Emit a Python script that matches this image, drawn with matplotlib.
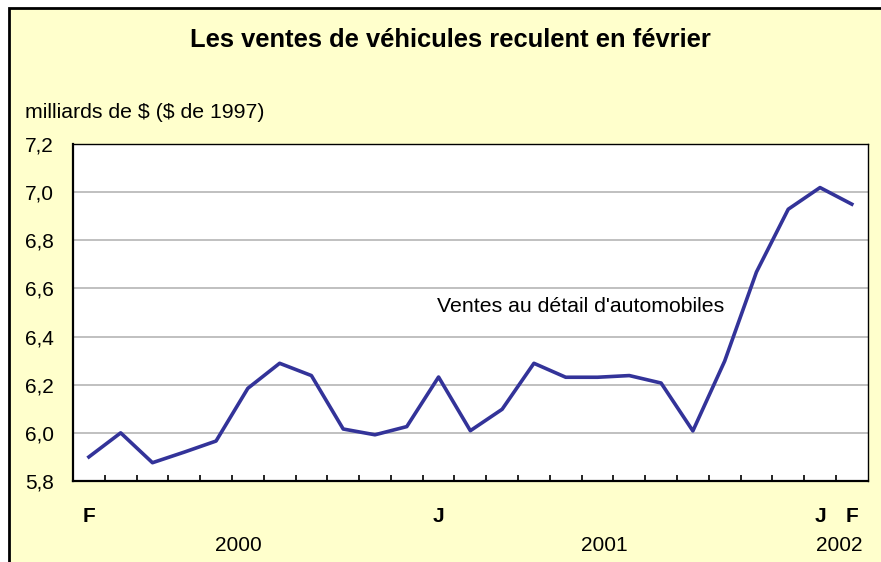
import matplotlib.pyplot as plt
from matplotlib.patches import Rectangle
import matplotlib.transforms as mtransforms

plt.rcParams['font.family'] = ['Liberation Sans', 'DejaVu Sans']

# ventes mensuelles, fevrier 2000 a fevrier 2002
mois = list(range(25))
ventes = [5.90, 6.00, 5.876, 5.92, 5.966, 6.185, 6.289, 6.238, 6.016, 5.992, 6.026, 6.232,
          6.009, 6.098, 6.289, 6.231, 6.231, 6.238, 6.207, 6.008, 6.298, 6.668, 6.929, 7.019, 6.950]
etiquettes_mois = ["F"] + [""] * 10 + ["J"] + [""] * 11 + ["J", "F"]
annees = ["2000", "2001", "2002"]
pos_annees = [4.7, 16.2, 23.6]
yticks = [5.8, 6.0, 6.2, 6.4, 6.6, 6.8, 7.0, 7.2]

fig = plt.figure(figsize=(8.81, 5.62), dpi=100, facecolor="white")

# cadre jaune pale
cadre = Rectangle((9 / 881, -0.1), 1.2, 1 - 8 / 562 + 0.1, transform=fig.transFigure,
                  facecolor="#FFFFCC", edgecolor="black", linewidth=2, zorder=-10)
fig.add_artist(cadre)

ax = fig.add_axes([73 / 881, 81 / 562, (867.7 - 73) / 881, (481 - 144) / 562])
ax.set_zorder(5)
ax.set_facecolor("white")

ax.plot(mois, ventes, color="#333399", linewidth=2.6, zorder=3)

ax.set_xlim(-0.5, 24.5)
ax.set_ylim(5.8, 7.2)
ax.set_yticks(yticks)
ax.set_yticklabels([f"{v:.1f}".replace(".", ",") for v in yticks], fontsize=15)
ax.tick_params(axis="y", length=0, pad=14)
for v in yticks[1:-1]:
    ax.axhline(v, color="#BBBBBB", linewidth=1.3, zorder=1)

ax.set_xticks(mois)
ax.set_xticklabels(etiquettes_mois, fontsize=15, fontweight="bold")
ax.tick_params(axis="x", which="major", length=0, pad=19)
ax.set_xticks([m + 0.5 for m in mois[:-1]], minor=True)
ax.tick_params(axis="x", which="minor", direction="in", length=4.5, width=1.2)

for s in ["left", "bottom"]:
    ax.spines[s].set_linewidth(1.6)
for s in ["top", "right"]:
    ax.spines[s].set_linewidth(1.0)

trans = mtransforms.blended_transform_factory(ax.transData, ax.transAxes)
for a, p in zip(annees, pos_annees):
    ax.text(p, -0.19, a, transform=trans, ha="center", va="center", fontsize=15)

ax.text(10.94, 6.523, "Ventes au détail d'automobiles", ha="left", va="center", fontsize=15.3)

fig.text(0.511, 0.929, "Les ventes de véhicules reculent en février", ha="center", va="center",
         fontsize=18.4, fontweight="bold")
fig.text(25 / 881, 0.799, "milliards de \\$ (\\$ de 1997)", ha="left", va="center", fontsize=15.3)

fig.savefig("out.png", dpi=100, facecolor=fig.get_facecolor())
